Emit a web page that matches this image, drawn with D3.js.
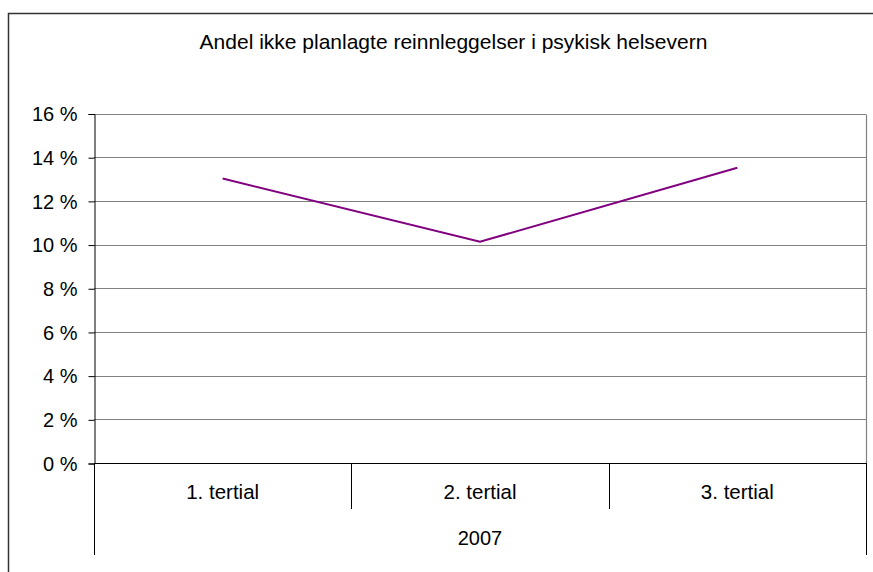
<html>
<head>
<script src="https://d3js.org/d3.v7.min.js"></script>
<style>
  body { margin: 0; background: #fff; }
  svg text { font-family: "Liberation Sans", Arial, sans-serif; fill: #000; }
</style>
</head>
<body>
<div id="chart"></div>
<script>
var title = "Andel ikke planlagte reinnleggelser i psykisk helsevern";
var categories = ["1. tertial", "2. tertial", "3. tertial"];
var groupLabel = "2007";
var values = [0.1302, 0.1013, 0.1352];
var yTicks = [0, 0.02, 0.04, 0.06, 0.08, 0.10, 0.12, 0.14, 0.16];

var W = 873, H = 572;
var plotLeft = 94, plotRight = 866, plotTop = 113.5, plotBottom = 463;

var svg = d3.select("#chart").append("svg")
    .attr("width", W).attr("height", H);

// outer frame (runs off the right/bottom edge)
svg.append("rect")
    .attr("x", 8.5).attr("y", 13.5)
    .attr("width", 880).attr("height", 580)
    .attr("fill", "none").attr("stroke", "#333").attr("stroke-width", 1.5);

svg.append("text")
    .attr("x", 453.5).attr("y", 49)
    .attr("text-anchor", "middle")
    .style("font-size", "21px")
    .text(title);

var y = d3.scaleLinear().domain([0, 0.16]).range([plotBottom, plotTop]);
var x = d3.scaleBand().domain(categories).range([plotLeft, plotRight]);

// gridlines
svg.append("g").selectAll("line")
    .data(yTicks.filter(function(d) { return d > 0; }))
    .enter().append("line")
    .attr("x1", plotLeft).attr("x2", plotRight)
    .attr("y1", function(d) { return Math.round(y(d)) + 0.5; })
    .attr("y2", function(d) { return Math.round(y(d)) + 0.5; })
    .attr("stroke", "#808080").attr("stroke-width", 1.2);

// right border of plot area
svg.append("line")
    .attr("x1", plotRight + 0.5).attr("x2", plotRight + 0.5)
    .attr("y1", Math.round(y(0.16)) + 0.5).attr("y2", plotBottom)
    .attr("stroke", "#808080").attr("stroke-width", 1.2);

// y axis
var yAxis = d3.axisLeft(y).tickValues(yTicks).tickSize(6).tickPadding(11)
    .tickFormat(function(d) { return Math.round(d * 100) + " %"; });
var ga = svg.append("g").attr("transform", "translate(" + (plotLeft + 0.5) + ",0.5)").call(yAxis);
ga.select(".domain").attr("stroke", "#000");
ga.selectAll(".tick line").attr("stroke", "#000");
ga.selectAll("text").style("font-size", "20px").style("font-family", "Liberation Sans, Arial, sans-serif")
    .attr("fill", "#000").attr("dy", "0.34em");

// x axis line
svg.append("line")
    .attr("x1", plotLeft).attr("x2", plotRight + 1)
    .attr("y1", plotBottom + 0.5).attr("y2", plotBottom + 0.5)
    .attr("stroke", "#000").attr("stroke-width", 1.2);

// category separators
var seps = categories.map(function(c) { return x(c); }).concat([plotRight]);
svg.append("g").selectAll("line")
    .data(seps)
    .enter().append("line")
    .attr("x1", function(d) { return Math.round(d) + 0.5; })
    .attr("x2", function(d) { return Math.round(d) + 0.5; })
    .attr("y1", plotBottom)
    .attr("y2", function(d, i) { return (i === 0 || i === seps.length - 1) ? 555 : 509; })
    .attr("stroke", "#000").attr("stroke-width", 1);

svg.append("g").selectAll("text")
    .data(categories)
    .enter().append("text")
    .attr("x", function(d) { return x(d) + x.bandwidth() / 2; })
    .attr("y", 499)
    .attr("text-anchor", "middle")
    .style("font-size", "20.5px")
    .text(function(d) { return d; });

svg.append("text")
    .attr("x", (plotLeft + plotRight) / 2).attr("y", 545)
    .attr("text-anchor", "middle")
    .style("font-size", "20px")
    .text(groupLabel);

// line
var line = d3.line()
    .x(function(d, i) { return x(categories[i]) + x.bandwidth() / 2; })
    .y(function(d) { return y(d); });
svg.append("path")
    .datum(values)
    .attr("d", line)
    .attr("fill", "none")
    .attr("stroke", "#800080")
    .attr("stroke-width", 2);
</script>
</body>
</html>
